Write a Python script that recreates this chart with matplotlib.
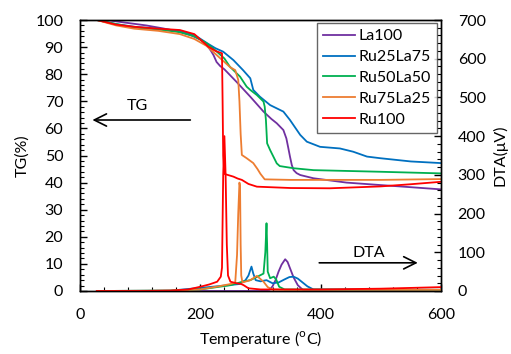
import matplotlib
matplotlib.use("Agg")
import matplotlib.pyplot as plt
from matplotlib.ticker import MultipleLocator

plt.rcParams['font.family'] = ['Lato', 'DejaVu Sans']

names = ['La100', 'Ru25La75', 'Ru50La50', 'Ru75La25', 'Ru100']
colors = ['#7030A0', '#0070C0', '#00B050', '#ED7D31', '#FF0000']

# TG curves (temperature, TG %)
tg_T = {
    'La100':    [28, 50, 83, 110, 138, 160, 183, 200, 211, 218, 222, 227, 233, 240, 260, 283, 305, 318, 327, 338, 343, 346, 349, 352, 355, 360, 366, 388, 443, 499, 550, 600],
    'Ru25La75': [28, 60, 90, 130, 166, 190, 213, 225, 238, 255, 271, 283, 288, 299, 316, 327, 338, 349, 366, 377, 399, 432, 454, 477, 499, 550, 600],
    'Ru50La50': [28, 60, 90, 130, 166, 190, 210, 225, 240, 249, 266, 277, 283, 294, 305, 307, 309, 311, 316, 327, 332, 355, 388, 499, 600],
    'Ru75La25': [28, 60, 90, 130, 166, 190, 210, 225, 240, 250, 258, 263, 265, 267, 269, 277, 288, 295, 300, 307, 350, 500, 600],
    'Ru100':    [28, 60, 90, 130, 166, 190, 213, 225, 236, 237, 238, 240, 246, 255, 262, 269, 280, 294, 350, 415, 500, 550, 600],
}
tg_V = {
    'La100':    [100, 99.8, 98.8, 98, 96.9, 95.9, 94.5, 92.8, 90.8, 88.5, 87, 84.5, 83, 81.8, 77.2, 71.7, 66.2, 63.5, 61.9, 59.4, 56.3, 53, 49.6, 46.5, 44.6, 43.5, 42.8, 41.6, 40, 39.1, 38.3, 37.5],
    'Ru25La75': [100, 98.5, 97.5, 96.8, 96, 94.5, 91.2, 89.6, 88.3, 85.2, 81.5, 78.5, 74.2, 71.7, 68.6, 67.4, 66.2, 63.1, 57.6, 55.1, 53.2, 52.6, 51.4, 49.6, 49.0, 47.8, 47.2],
    'Ru50La50': [100, 98.5, 97.2, 96.5, 95.5, 94, 91.5, 88.8, 85.8, 82.8, 79.1, 75.4, 74.2, 72.3, 69.9, 68.0, 63.1, 54.5, 52, 47.1, 46.1, 45.3, 44.6, 44.0, 43.4],
    'Ru75La25': [100, 98, 96.8, 96, 94.8, 93, 90.5, 87.5, 84.5, 82.5, 81.5, 77.9, 70, 58, 50.2, 49, 47.2, 45, 43.2, 41.2, 41, 41, 41.3],
    'Ru100':    [100, 98.3, 97.5, 96.8, 96.3, 94.8, 90.2, 88.6, 87.7, 70, 50, 43.2, 42.8, 42.2, 41.5, 41, 39.5, 38.5, 38, 37.9, 38.6, 39.4, 40.3],
}

# DTA curves (temperature, DTA uV)
dta_T = {
    'La100':    [28, 300, 315, 320, 325, 330, 335, 341, 345, 350, 355, 362, 371, 600],
    'Ru25La75': [28, 150, 200, 240, 265, 275, 280, 285, 288, 292, 300, 310, 320, 330, 340, 348, 355, 362, 370, 378, 388, 600],
    'Ru50La50': [28, 150, 200, 250, 270, 283, 295, 305, 308, 310, 311, 312, 316, 322, 326, 331, 340, 600],
    'Ru75La25': [28, 150, 200, 230, 250, 258, 261, 263, 265, 266, 267, 268, 270, 283, 294, 305, 312, 320, 340, 600],
    'Ru100':    [28, 100, 150, 180, 200, 215, 228, 234, 236, 238, 240, 242, 244, 246, 250, 260, 268, 272, 280, 300, 400, 500, 600],
}
dta_V = {
    'La100':    [0, 0, 3, 12, 28, 50, 68, 82, 75, 55, 35, 15, 2, 0],
    'Ru25La75': [0, 1, 8, 14, 18, 28, 40, 63, 45, 28, 25, 28, 20, 22, 30, 36, 37, 32, 22, 12, 4, 3],
    'Ru50La50': [0, 1, 4, 15, 24, 28, 37, 45, 100, 175, 120, 50, 33, 37, 30, 11, 4, 3],
    'Ru75La25': [0, 1, 4, 12, 18, 22, 93, 200, 280, 270, 120, 40, 22, 28, 39, 24, 10, 4, 3, 3],
    'Ru100':    [0, 0, 1, 4, 11, 17, 24, 37, 60, 300, 400, 300, 120, 40, 24, 20, 18, 15, 7, 4, 4, 6, 10],
}

fig = plt.figure(figsize=(5.11, 3.54), dpi=100)
ax = fig.add_axes([80/511, 1-291/354, 361/511, 271/354])
ax2 = ax.twinx()

handles = []
for n, c in zip(names, colors):
    h, = ax.plot(tg_T[n], tg_V[n], color=c, lw=1.3, label=n)
    handles.append(h)
    ax2.plot(dta_T[n], dta_V[n], color=c, lw=1.3)

ax.set_xlim(0, 600)
ax.set_ylim(0, 100)
ax2.set_ylim(0, 700)

ax.xaxis.set_major_locator(MultipleLocator(200))
ax.xaxis.set_minor_locator(MultipleLocator(40))
ax.yaxis.set_major_locator(MultipleLocator(10))
ax.yaxis.set_minor_locator(MultipleLocator(2))
ax2.yaxis.set_major_locator(MultipleLocator(100))
ax2.yaxis.set_minor_locator(MultipleLocator(20))

fs = 11.5
ax.tick_params(axis='both', which='both', direction='in', top=False, right=False, color='black')
ax.tick_params(axis='both', which='major', length=5, width=1, labelsize=fs)
ax.tick_params(axis='both', which='minor', length=3, width=0.8)
ax.tick_params(axis='y', which='major', pad=12)
ax.tick_params(axis='x', which='major', pad=12)
ax2.tick_params(axis='y', which='both', direction='in', color='black')
ax2.tick_params(axis='y', which='major', length=5, width=1, labelsize=fs, pad=12)
ax2.tick_params(axis='y', which='minor', length=3, width=0.8)

for a in (ax, ax2):
    for s in a.spines.values():
        s.set_linewidth(1.0)
        s.set_color('black')

ax.set_xlabel(r'Temperature ($^{\mathrm{o}}$C)', fontsize=fs, labelpad=5)
ax.set_ylabel('TG(%)', fontsize=fs, labelpad=4)
ax2.set_ylabel('DTA(μV)', fontsize=fs, labelpad=5)

# annotations
ax.annotate('', xy=(16, 63.1), xytext=(188, 63.1),
            arrowprops=dict(arrowstyle='->', color='black', lw=1.2, mutation_scale=22))
ax.text(95, 68.3, 'TG', fontsize=fs, ha='center', va='center')
ax.annotate('', xy=(566, 10.4), xytext=(393, 10.4),
            arrowprops=dict(arrowstyle='->', color='black', lw=1.2, mutation_scale=22))
ax.text(480, 14.2, 'DTA', fontsize=fs, ha='center', va='center')

leg = ax2.legend(handles=handles, loc='upper right',
                 bbox_to_anchor=((437.3-80)/361, (291-22.7)/271),
                 borderaxespad=0, fontsize=fs, frameon=True, fancybox=False,
                 handlelength=2.0, handletextpad=0.2, labelspacing=0.42,
                 borderpad=0.4)
leg.get_frame().set_edgecolor('#404040')
leg.get_frame().set_linewidth(1.0)

fig.savefig('out.png', dpi=100)
